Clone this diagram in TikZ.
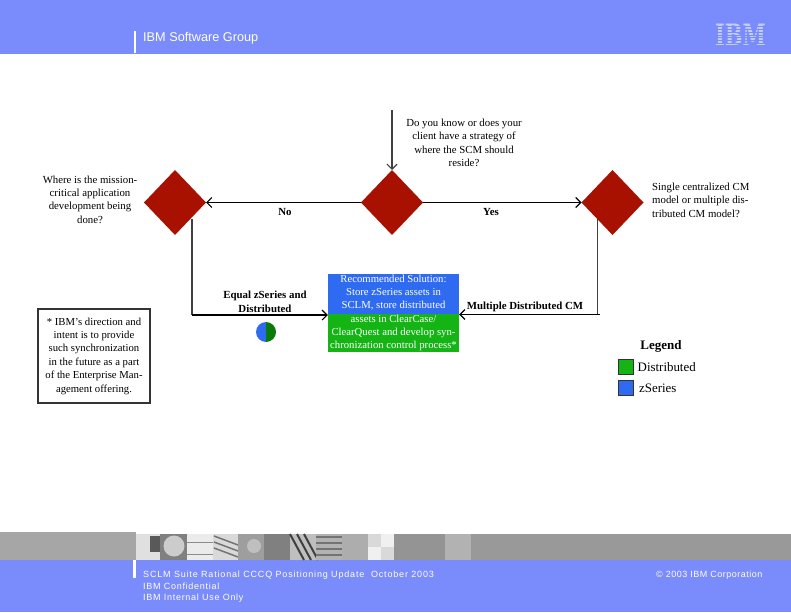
\documentclass[tikz,border=0pt]{standalone}
\usepackage{fontspec}
\setmainfont{Liberation Serif}
\newfontfamily\slidefont{Liberation Sans}
\newfontfamily\logofont{DejaVu Serif}
\usetikzlibrary{shapes.geometric,arrows.meta}
\definecolor{slideblue}{HTML}{7A8BFB}
\definecolor{logoblue}{HTML}{C3CDFC}
\definecolor{decisionred}{HTML}{A81000}
\definecolor{zblue}{HTML}{2E6BF0}
\definecolor{distgreen}{HTML}{14B414}
\definecolor{darkgreen}{HTML}{0A7A0A}
\tikzset{
  decision/.style={diamond, aspect=1, fill=decisionred, inner sep=0pt, outer sep=0pt, minimum width=62pt, minimum height=65pt},
  question/.style={align=center, inner sep=0pt, font=\fontsize{10.8}{13.4}\selectfont},
  edgelabel/.style={align=center, inner sep=0pt, font=\fontsize{10.85}{13.4}\selectfont\bfseries},
  flow/.style={line width=1.5pt, -{Straight Barb[length=5pt,width=10pt,line width=1.1pt]}},
  drop/.style={line width=1.4pt, black!75},
  swatch/.style={draw=black!80, line width=0.8pt, minimum width=15pt, minimum height=15pt, inner sep=0pt},
  slidetext/.style={anchor=west, inner sep=0pt, text=white, font=\slidefont\fontsize{9}{11}\selectfont}
}
\begin{document}
\begin{tikzpicture}[x=1pt,y=-1pt]
  \useasboundingbox (0,0) rectangle (791,612);
  \fill [slideblue] (0,0) rectangle (791,54);
  \fill [slideblue] (0,560) rectangle (791,612);
  \fill [white] (134,31) rectangle (136,53);
  \fill [white] (133,560) rectangle (136,578);
  \node [anchor=west, inner sep=0pt, text=white, font=\slidefont\fontsize{12.7}{14}\selectfont] (group) at (143,38) {IBM Software Group};
  \node [inner sep=0pt, text=logoblue, font=\logofont\bfseries\fontsize{21}{24}\selectfont] (logo) at (740.5,35) {\scalebox{1}[1.4]{IBM}};
  \foreach \y in {26.6,29.4,...,46} \draw [slideblue, line width=0.6pt] (712,\y) -- (768,\y);
  % picture strip
  \fill [black!35] (0,532) rectangle (136,560);
  \fill [black!40] (471,534) rectangle (791,560);
  \fill [black!12] (136,534) rectangle (160,560);
  \fill [black!65] (150,536) rectangle (160,552);
  \fill [black!50] (160,534) rectangle (187,560);
  \fill [black!20] (174,546) circle (10.5);
  \fill [black!8] (187,534) rectangle (213,560);
  \draw [black!45] (187,542) -- (213,542);
  \draw [black!45] (187,554) -- (213,554);
  \fill [black!15] (213,534) rectangle (238,560);
  \foreach \y in {540,546,552} \draw [black!55, line width=1.5pt] (214,\y-4) -- (238,\y+5);
  \fill [black!38] (238,534) rectangle (264,560);
  \fill [black!25] (254,546) circle (7);
  \fill [black!50] (264,534) rectangle (290,560);
  \fill [black!25] (290,534) rectangle (316,560);
  \foreach \x in {290,297,304} \draw [black!75, line width=2pt] (\x,534) -- (\x+14,560);
  \fill [black!30] (316,534) rectangle (342,560);
  \foreach \y in {537,543,...,558} \draw [black!55, line width=1.5pt] (316,\y) -- (342,\y);
  \fill [black!32] (342,534) rectangle (368,560);
  \fill [black!15] (368,534) rectangle (394,560);
  \fill [black!6] (368,547) rectangle (381,560);
  \fill [black!6] (381,534) rectangle (394,547);
  \fill [black!42] (394,534) rectangle (445,560);
  \fill [black!30] (445,534) rectangle (471,560);
  \node [slidetext] (foota) at (143,574.7) {\addfontfeature{LetterSpace=9.2}SCLM Suite Rational CCCQ Positioning Update~ October 2003};
  \node [slidetext] (footb) at (143,586.5) {\addfontfeature{LetterSpace=8}IBM Confidential};
  \node [slidetext] (footc) at (143,598.5) {\addfontfeature{LetterSpace=8}IBM Internal Use Only};
  \node [slidetext] (copyright) at (656,574.7) {\addfontfeature{LetterSpace=5.5}© 2003 IBM Corporation};
  % decisions
  \node [decision] (leftdec) at (175,202.5) {};
  \node [decision] (middec) at (392,202.5) {};
  \node [decision] (rightdec) at (612.5,202.5) {};
  \node [question] (leftq) at (90,199.5) {Where is the mission-\\critical application\\development being\\done?};
  \node [question] (midq) at (464,142.7) {Do you know or does your\\client have a strategy of\\where the SCM should\\reside?};
  \node [question, align=left, anchor=west] (rightq) at (652,200) {Single centralized CM\\model or multiple dis-\\tributed CM model?};
  \coordinate (entry) at (392,110);
  \coordinate (leftfoot) at (192,315);
  \coordinate (rightfoot) at (597.5,314.5);
  \coordinate (rightend) at (599.5,314.5);
  \draw [flow, black!75] (entry) -- (middec);
  \draw [flow] (middec) -- (leftdec);
  \draw [flow] (middec) -- (rightdec);
  \node [edgelabel] (nolabel) at (285,212) {No};
  \node [edgelabel] (yeslabel) at (491,212) {Yes};
  % solution box
  \fill [zblue] (328,274) rectangle (459,314);
  \fill [distgreen] (328,314) rectangle (459,352);
  \node [minimum width=131pt, minimum height=78pt, inner sep=0pt, align=center, text=white, font=\fontsize{10.7}{13.2}\selectfont] (solution) at (393.5,313) {Recommended Solution:\\Store zSeries assets in\\SCLM, store distributed\\assets in ClearCase/\\ClearQuest and develop syn-\\chronization control process*};
  \draw [drop] (leftdec.south east -| leftfoot) -- (leftfoot);
  \draw [flow] (leftfoot) -- (solution.west |- leftfoot);
  \draw [drop] (rightdec.south west -| rightfoot) -- (rightfoot);
  \draw [flow] (rightend) -- (solution.east |- rightend);
  \node [edgelabel] (equallabel) at (265,301.7) {Equal zSeries and\\Distributed};
  \node [edgelabel] (multilabel) at (525,306.5) {Multiple Distributed CM};
  \fill [zblue] (266,342) arc (90:270:10) -- cycle;
  \fill [darkgreen] (266,342) arc (90:-90:10) -- cycle;
  % note
  \node [draw=black!80, line width=1.2pt, minimum width=112pt, minimum height=94pt, inner sep=0pt, align=center, font=\fontsize{10.7}{13.4}\selectfont] (note) at (94,356) {* IBM’s direction and\\intent is to provide\\such synchronization\\in the future as a part\\of the Enterprise Man-\\agement offering.};
  % legend
  \node [inner sep=0pt, font=\fontsize{13}{15}\selectfont\bfseries] (legend) at (661,346) {Legend};
  \node [swatch, fill=distgreen] (distswatch) at (626,366.5) {};
  \node [swatch, fill=zblue] (zswatch) at (626,387.5) {};
  \node [anchor=west, inner sep=0pt, font=\fontsize{12.9}{15}\selectfont] (distlabel) at (637.5,367) {Distributed};
  \node [anchor=west, inner sep=0pt, font=\fontsize{12.9}{15}\selectfont] (zlabel) at (639,388) {zSeries};
\end{tikzpicture}
\end{document}
